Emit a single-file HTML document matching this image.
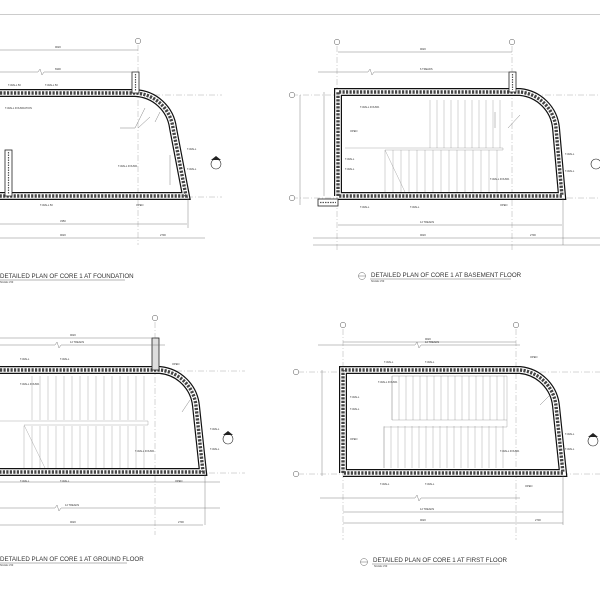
<!DOCTYPE html>
<html><head><meta charset="utf-8"><style>
html,body{margin:0;padding:0;background:#fff}
svg{display:block}
text{font-family:"Liberation Sans",sans-serif;fill:#333}
</style></head><body>
<svg width="600" height="600" viewBox="0 0 600 600" xmlns="http://www.w3.org/2000/svg">
<defs>
<path id="w1" d="M0,93 H135 A40,40 0 0 1 173,128 L186,196 H0"/>
<path id="w2" d="M338,196 V92 H520 A40,40 0 0 1 556,128 L562,196 H338"/>
<path id="w3" d="M0,370 H160 A40,40 0 0 1 196,406 L203,472 H0"/>
<path id="w4" d="M343,473 V370 H520 A40,40 0 0 1 556,406 L563,473 H343"/>
</defs>
<line x1="0" y1="14.5" x2="600" y2="14.5" stroke="#ccc" stroke-width="1"/>

<g stroke="#999" stroke-width="0.4" stroke-dasharray="6,2,1,2" fill="none">
<line x1="0" y1="95" x2="222" y2="95"/><line x1="0" y1="197" x2="222" y2="197"/>
<line x1="292" y1="95" x2="600" y2="95"/><line x1="292" y1="198" x2="600" y2="198"/>
<line x1="0" y1="371" x2="245" y2="371"/><line x1="0" y1="473" x2="245" y2="473"/>
<line x1="298" y1="372" x2="600" y2="372"/><line x1="298" y1="474" x2="600" y2="474"/>
<line x1="138" y1="45" x2="138" y2="245"/>
<line x1="337" y1="46" x2="337" y2="252"/><line x1="512" y1="46" x2="512" y2="252"/>
<line x1="155" y1="322" x2="155" y2="535"/>
<line x1="343" y1="329" x2="343" y2="540"/><line x1="516" y1="329" x2="516" y2="540"/>
</g>

<g stroke="#888" stroke-width="0.35" fill="none">
<path d="M430,100 V148 M437,100 V148 M444,100 V148 M451,100 V148 M458,100 V148 M465,100 V148 M472,100 V148 M479,100 V148 M486,100 V148 M493,100 V148 M500,100 V148"/>
<path d="M385,150 V192 M393,150 V192 M401,150 V192 M409,150 V192 M417,150 V192 M425,150 V192 M433,150 V192 M441,150 V192 M449,150 V192 M457,150 V192 M465,150 V192 M473,150 V192 M481,150 V192 M489,150 V192 M497,150 V192"/>
<path d="M345,148 H503 V150 H385 M385,150 L405,192"/>
<path d="M32,376 V420 M40,376 V420 M48,376 V420 M56,376 V420 M64,376 V420 M72,376 V420 M80,376 V420 M88,376 V420 M96,376 V420 M104,376 V420 M112,376 V420 M120,376 V420 M128,376 V420 M136,376 V420 M144,376 V420"/>
<path d="M24,426 V468 M32,426 V468 M40,426 V468 M48,426 V468 M56,426 V468 M64,426 V468 M72,426 V468 M80,426 V468 M88,426 V468 M96,426 V468 M104,426 V468 M112,426 V468 M120,426 V468 M128,426 V468 M136,426 V468 M144,426 V468"/>
<path d="M0,421 H148 V425 H24 M24,425 L45,468"/>
<path d="M392,376 V420 M399,376 V420 M406,376 V420 M413,376 V420 M420,376 V420 M427,376 V420 M434,376 V420 M441,376 V420 M448,376 V420 M455,376 V420 M462,376 V420 M469,376 V420 M476,376 V420 M483,376 V420 M490,376 V420 M497,376 V420 M504,376 V420"/>
<path d="M384,426 V468 M391,426 V468 M398,426 V468 M405,426 V468 M412,426 V468 M419,426 V468 M426,426 V468 M433,426 V468 M440,426 V468 M447,426 V468 M454,426 V468 M461,426 V468 M468,426 V468 M475,426 V468 M482,426 V468 M489,426 V468 M496,426 V468 M503,426 V468"/>
<path d="M392,376 V420 H507 V427 H384 V468 M392,376 H507 V420"/>
</g>

<g fill="none">
<use href="#w1" stroke="#111" stroke-width="8"/><use href="#w1" stroke="#fff" stroke-width="5.6"/><use href="#w1" stroke="#444" stroke-width="3.4" stroke-dasharray="2.2,1.3"/>
<use href="#w2" stroke="#111" stroke-width="8"/><use href="#w2" stroke="#fff" stroke-width="5.6"/><use href="#w2" stroke="#444" stroke-width="3.4" stroke-dasharray="2.2,1.3"/>
<use href="#w3" stroke="#111" stroke-width="8"/><use href="#w3" stroke="#fff" stroke-width="5.6"/><use href="#w3" stroke="#444" stroke-width="3.4" stroke-dasharray="2.2,1.3"/>
<use href="#w4" stroke="#111" stroke-width="8"/><use href="#w4" stroke="#fff" stroke-width="5.6"/><use href="#w4" stroke="#444" stroke-width="3.4" stroke-dasharray="2.2,1.3"/>
</g>
<g stroke="#222" stroke-width="0.8" fill="#fff">
<rect x="132" y="72" width="7" height="21"/><rect x="5" y="150" width="7" height="46"/>
<rect x="509" y="72" width="7" height="20"/><rect x="318" y="199" width="20" height="7"/>
<rect x="152" y="338" width="7" height="32" fill="#ddd"/>
</g>
<g stroke="#555" stroke-width="1.2" stroke-dasharray="1.5,1" fill="none">
<line x1="135.5" y1="74" x2="135.5" y2="91"/><line x1="8.5" y1="152" x2="8.5" y2="194"/><line x1="512.5" y1="74" x2="512.5" y2="90"/><line x1="320" y1="202.5" x2="336" y2="202.5"/>
</g>

<g stroke="#666" stroke-width="0.4" fill="none">
<path d="M0,50 H138 M0,72 H38 l2,-3 l2,6 l2,-3 H138 M0,224 H187 M0,238 H205"/>
<path d="M338,52 H512 M318,72 H368 l2,-3 l2,6 l2,-3 H512 M338,225 H562 M313,238 H600 M313,245 H600"/>
<path d="M0,338 H155 M0,345 H55 l2,-3 l2,6 l2,-3 H165 M0,482 H220 M0,508 H55 l2,-3 l2,6 l2,-3 H220 M0,525 H203"/>
<path d="M343,342 H516 M318,345 H415 l2,-3 l2,6 l2,-3 H520 M320,498 H415 l2,-3 l2,6 l2,-3 H520 M343,512 H563 M343,523 H563"/>
<path d="M300,95 V205 M324,92 V196 M322,370 V476 M188,198 V228 M563,198 V245 M205,470 V525 M563,476 V525"/>
<path d="M138,128 L150,117 M155,122 L160,112 M120,128 H135 L145,108 M170,155 V185"/>
<path d="M508,128 L520,115 M495,128 V112 M182,412 L190,400 M540,405 L550,395"/>
</g>

<g stroke="#555" stroke-width="0.5" fill="#fff">
<circle cx="138" cy="41" r="2.8"/><circle cx="337" cy="42" r="2.8"/><circle cx="512" cy="42" r="2.8"/>
<circle cx="292" cy="95" r="2.8"/><circle cx="292" cy="198" r="2.8"/>
<circle cx="155" cy="318" r="2.8"/><circle cx="343" cy="325" r="2.8"/><circle cx="516" cy="325" r="2.8"/>
<circle cx="296" cy="372" r="2.8"/><circle cx="296" cy="474" r="2.8"/>
</g>
<g stroke="#222" stroke-width="0.6" fill="#fff">
<circle cx="216" cy="164" r="5"/><circle cx="228" cy="439" r="5"/><circle cx="596" cy="164" r="5"/><circle cx="593" cy="441" r="5"/>
</g>
<g fill="#222"><path d="M211,160 L216,156 L221,160Z"/><path d="M223,435 L228,431 L233,435Z"/><path d="M588,437 L593,433 L598,437Z"/></g>

<g font-size="2.6">
<text x="55" y="48">9020</text><text x="55" y="70">6900</text><text x="8" y="86">T-WALL 50</text><text x="45" y="86">T-WALL 50</text>
<text x="5" y="109">T-WALL FOUNDATION</text><text x="118" y="167">T-WALL FOUND.</text><text x="40" y="206">T-WALL 50</text><text x="136" y="206">OPEN</text>
<text x="60" y="222">3350</text><text x="60" y="236">9020</text><text x="160" y="236">2700</text><text x="187" y="150">T-WALL</text><text x="187" y="170">T-WALL</text>
<text x="420" y="50">9020</text><text x="420" y="70">6 TREADS</text><text x="360" y="108">T-WALL FOUND.</text><text x="350" y="132">OPEN</text><text x="345" y="160">T-WALL</text><text x="345" y="170">T-WALL</text>
<text x="360" y="208">T-WALL</text><text x="410" y="208">T-WALL</text><text x="490" y="180">T-WALL FOUND.</text><text x="500" y="206">OPEN</text><text x="565" y="155">T-WALL</text><text x="565" y="172">T-WALL</text>
<text x="420" y="223">12 TREADS</text><text x="420" y="236">9020</text><text x="530" y="236">2700</text>
<text x="70" y="336">9020</text><text x="70" y="343">12 TREADS</text><text x="20" y="360">T-WALL</text><text x="60" y="360">T-WALL</text><text x="20" y="385">T-WALL FOUND.</text>
<text x="135" y="452">T-WALL FOUND.</text><text x="20" y="482">T-WALL</text><text x="60" y="482">T-WALL</text><text x="175" y="482">OPEN</text><text x="65" y="506">12 TREADS</text><text x="70" y="523">9020</text><text x="178" y="523">2700</text>
<text x="210" y="430">T-WALL</text><text x="210" y="450">T-WALL</text><text x="172" y="365">OPEN</text>
<text x="425" y="340">9020</text><text x="425" y="343">12 TREADS</text><text x="384" y="363">T-WALL</text><text x="425" y="363">T-WALL</text><text x="378" y="383">T-WALL FOUND.</text>
<text x="350" y="398">T-WALL</text><text x="350" y="410">T-WALL</text><text x="350" y="440">OPEN</text><text x="500" y="452">T-WALL FOUND.</text><text x="530" y="358">OPEN</text>
<text x="380" y="485">T-WALL</text><text x="425" y="485">T-WALL</text><text x="525" y="487">OPEN</text><text x="420" y="510">12 TREADS</text><text x="420" y="521">9020</text><text x="535" y="521">2700</text><text x="565" y="435">T-WALL</text><text x="565" y="450">T-WALL</text>
</g>

<g font-size="6.2" fill="#222">
<text x="0" y="278">DETAILED PLAN OF CORE 1 AT FOUNDATION</text>
<text x="371" y="277">DETAILED PLAN OF CORE 1 AT BASEMENT FLOOR</text>
<text x="0" y="561">DETAILED PLAN OF CORE 1 AT GROUND FLOOR</text>
<text x="373" y="562">DETAILED PLAN OF CORE 1 AT FIRST FLOOR</text>
</g>
<g font-size="2.4"><text x="0" y="283">SCALE 1:50</text><text x="371" y="282">SCALE 1:50</text><text x="0" y="566">SCALE 1:50</text><text x="374" y="567">SCALE 1:50</text></g>
<g stroke="#444" stroke-width="0.4" fill="none">
<line x1="0" y1="280" x2="125" y2="280"/><line x1="370" y1="279" x2="511" y2="279"/><line x1="0" y1="563" x2="127" y2="563"/><line x1="372" y1="564" x2="500" y2="564"/>
<circle cx="362" cy="276" r="3.5"/><line x1="358.5" y1="276" x2="365.5" y2="276"/>
<circle cx="364" cy="562" r="3.5"/><line x1="360.5" y1="562" x2="367.5" y2="562"/>
</g>
</svg>
</body></html>
